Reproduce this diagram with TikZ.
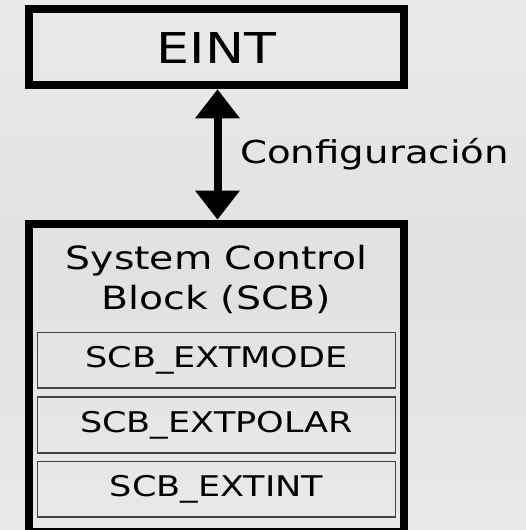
\documentclass[tikz,border=0pt]{standalone}
\usepackage{fontspec}
\usetikzlibrary{arrows.meta}
% Wide DejaVu Sans used for every label
\newfontfamily\dvwide[FakeStretch=1.23]{DejaVu Sans}
\definecolor{bgtop}{HTML}{EAEAEA}
\definecolor{bgmid}{HTML}{E1E1E1}
\definecolor{bgbot}{HTML}{E9E9E9}
\definecolor{regline}{HTML}{444444}
\tikzset{
  bigbox/.style={draw=black, line width=8pt, rectangle, inner sep=0pt},
  regbox/.style={draw=regline, line width=1.6pt, rectangle, inner sep=0pt,
    minimum width=358pt, minimum height=55.5pt,
    font=\dvwide\fontsize{28.5}{34}\selectfont, text height=21pt, text depth=6pt},
  linktip/.tip={Triangle[length=29pt, width=45pt, line width=0pt]}
}
\begin{document}
\begin{tikzpicture}[x=1pt, y=1pt]
  \path[use as bounding box] (0,0) rectangle (526,-530);
  \clip (0,0) rectangle (526,-530);
  % soft grey backdrop
  \shade[top color=bgtop, bottom color=bgbot, middle color=bgmid] (0,0) rectangle (526,-530);

  % EINT peripheral
  \node[bigbox, minimum width=375pt, minimum height=76pt,
        font=\dvwide\fontsize{42.5}{50}\selectfont, text height=32pt, text depth=0pt]
        (eint) at (216.5,-47.4) {EINT};

  % System Control Block container (runs past the lower edge)
  \node[bigbox, minimum width=375pt, minimum height=308.5pt] (scb) at (216.5,-377.75) {};
  \node[font=\dvwide\fontsize{32}{40}\selectfont, align=center, anchor=base, inner sep=0pt]
        (scbtitle) at (216.5,-309) {System Control\\Block (SCB)};

  % registers
  \node[regbox] (extmode)  at (216.5,-360.2) {SCB\_EXTMODE};
  \node[regbox] (extpolar) at (216.5,-425)   {SCB\_EXTPOLAR};
  \node[regbox] (extint)   at (216.5,-489.3) {SCB\_EXTINT};

  % configuration link
  \draw[line width=8pt, linktip-linktip] ([xshift=1pt]eint.south) -- ([xshift=1pt]scb.north);
  \node[font=\dvwide\fontsize{31.5}{38}\selectfont, anchor=base west, inner sep=0pt]
        (cfg) at (240,-163) {Configuración};
\end{tikzpicture}
\end{document}
